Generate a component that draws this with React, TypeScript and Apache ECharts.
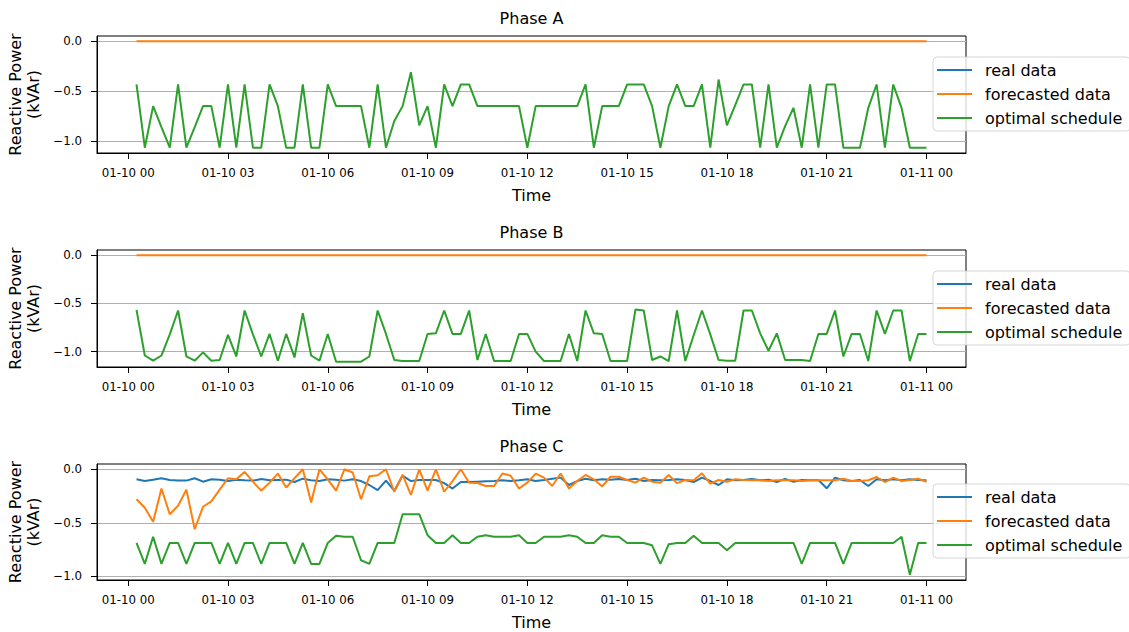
import React, { useEffect, useRef } from 'react';
import * as echarts from 'echarts';

const PHASES = ['Phase A', 'Phase B', 'Phase C'];
const SERIES_NAMES = ['real data', 'forecasted data', 'optimal schedule'];
const COLORS = ['#1f77b4', '#ff7f0e', '#2ca02c'];
const Y_LABEL = 'Reactive Power\n(kVAr)';
const X_LABEL = 'Time';
const Y_TICKS = [-1.0, -0.5, 0.0];
const TICK_HOURS = [0, 3, 6, 9, 12, 15, 18, 21, 24];

// 15-minute samples, 01-10 00:15 .. 01-11 00:00
const START = Date.UTC(2020, 0, 10, 0, 0);
const HOUR = 3600 * 1000;
const STEP = 15 * 60 * 1000;
const N = 96;
const TIMES = Array.from({ length: N }, (_, i) => START + (i + 1) * STEP);

// Phase A
const realA: number[] = [];
const forecastA = [
  0, 0, 0, 0, 0, 0, 0, 0, 0, 0, 0, 0, 0, 0, 0, 0, 0, 0, 0, 0, 0, 0, 0, 0,
  0, 0, 0, 0, 0, 0, 0, 0, 0, 0, 0, 0, 0, 0, 0, 0, 0, 0, 0, 0, 0, 0, 0, 0,
  0, 0, 0, 0, 0, 0, 0, 0, 0, 0, 0, 0, 0, 0, 0, 0, 0, 0, 0, 0, 0, 0, 0, 0,
  0, 0, 0, 0, 0, 0, 0, 0, 0, 0, 0, 0, 0, 0, 0, 0, 0, 0, 0, 0, 0, 0, 0, 0,
];
const optimalA = [
  -0.433, -1.067, -0.65, -0.86, -1.067, -0.433, -1.067, -0.86, -0.65, -0.65, -1.067, -0.433,
  -1.067, -0.433, -1.067, -1.067, -0.433, -0.65, -1.067, -1.067, -0.433, -1.067, -1.067, -0.433,
  -0.65, -0.65, -0.65, -0.65, -1.067, -0.433, -1.067, -0.8, -0.65, -0.31, -0.843, -0.65,
  -1.067, -0.433, -0.65, -0.433, -0.433, -0.65, -0.65, -0.65, -0.65, -0.65, -0.65, -1.067,
  -0.65, -0.65, -0.65, -0.65, -0.65, -0.65, -0.433, -1.067, -0.65, -0.65, -0.65, -0.433,
  -0.433, -0.433, -0.65, -1.067, -0.65, -0.433, -0.65, -0.65, -0.433, -1.067, -0.383, -0.843,
  -0.64, -0.433, -0.433, -1.067, -0.433, -1.067, -0.85, -0.667, -1.067, -0.433, -1.067, -0.433,
  -0.433, -1.067, -1.067, -1.067, -0.667, -0.433, -1.067, -0.433, -0.667, -1.067, -1.067, -1.067,
];

// Phase B
const realB: number[] = [];
const forecastB = [
  0, 0, 0, 0, 0, 0, 0, 0, 0, 0, 0, 0, 0, 0, 0, 0, 0, 0, 0, 0, 0, 0, 0, 0,
  0, 0, 0, 0, 0, 0, 0, 0, 0, 0, 0, 0, 0, 0, 0, 0, 0, 0, 0, 0, 0, 0, 0, 0,
  0, 0, 0, 0, 0, 0, 0, 0, 0, 0, 0, 0, 0, 0, 0, 0, 0, 0, 0, 0, 0, 0, 0, 0,
  0, 0, 0, 0, 0, 0, 0, 0, 0, 0, 0, 0, 0, 0, 0, 0, 0, 0, 0, 0, 0, 0, 0, 0,
];
const optimalB = [
  -0.566, -1.04, -1.094, -1.04, -0.82, -0.573, -1.05, -1.094, -1.007, -1.094, -1.087, -0.826,
  -1.05, -0.573, -0.82, -1.05, -0.816, -1.094, -0.816, -1.06, -0.6, -1.04, -1.094, -0.816,
  -1.104, -1.104, -1.104, -1.104, -1.05, -0.573, -0.816, -1.087, -1.097, -1.097, -1.097, -0.816,
  -0.81, -0.573, -0.816, -0.816, -0.573, -1.087, -0.816, -1.097, -1.097, -1.097, -0.816, -0.816,
  -1.0, -1.097, -1.097, -1.097, -0.816, -1.097, -0.573, -0.81, -0.816, -1.097, -1.097, -1.097,
  -0.563, -0.573, -1.087, -1.05, -1.097, -0.573, -1.097, -0.83, -0.573, -0.82, -1.087, -1.094,
  -1.094, -0.573, -0.573, -0.81, -0.99, -0.81, -1.087, -1.087, -1.087, -1.097, -0.816, -0.816,
  -0.573, -1.05, -0.816, -0.816, -1.097, -0.573, -0.816, -0.573, -0.573, -1.097, -0.816, -0.816,
];

// Phase C
const realC = [
  -0.094, -0.11, -0.097, -0.084, -0.1, -0.106, -0.106, -0.084, -0.116, -0.094, -0.097, -0.11,
  -0.097, -0.103, -0.106, -0.09, -0.103, -0.1, -0.097, -0.119, -0.088, -0.103, -0.11, -0.094,
  -0.097, -0.106, -0.094, -0.11, -0.147, -0.194, -0.106, -0.2, -0.06, -0.11, -0.1, -0.1,
  -0.1, -0.13, -0.18, -0.119, -0.119, -0.116, -0.113, -0.11, -0.103, -0.11, -0.103, -0.094,
  -0.11, -0.1, -0.088, -0.078, -0.147, -0.11, -0.088, -0.103, -0.094, -0.097, -0.09, -0.1,
  -0.088, -0.11, -0.1, -0.103, -0.1, -0.094, -0.1, -0.119, -0.078, -0.11, -0.147, -0.094,
  -0.103, -0.1, -0.09, -0.103, -0.097, -0.119, -0.09, -0.116, -0.1, -0.103, -0.1, -0.178,
  -0.078, -0.103, -0.11, -0.1, -0.156, -0.094, -0.103, -0.094, -0.103, -0.094, -0.1, -0.103,
];
const forecastC = [
  -0.28, -0.36, -0.49, -0.18, -0.42, -0.34, -0.19, -0.56, -0.35, -0.3, -0.19, -0.084,
  -0.094, -0.025, -0.116, -0.2, -0.125, -0.04, -0.17, -0.084, 0, -0.31, 0, -0.094,
  -0.2, 0, -0.03, -0.28, -0.066, -0.056, 0, -0.21, -0.05, -0.24, 0, -0.2,
  0, -0.21, -0.11, 0, -0.125, -0.128, -0.156, -0.156, -0.04, -0.06, -0.18, -0.125,
  -0.04, -0.078, -0.156, -0.04, -0.18, -0.11, -0.053, -0.094, -0.16, -0.07, -0.07, -0.1,
  -0.125, -0.078, -0.116, -0.125, -0.053, -0.13, -0.1, -0.103, -0.038, -0.134, -0.1, -0.116,
  -0.094, -0.1, -0.103, -0.103, -0.11, -0.103, -0.103, -0.103, -0.11, -0.103, -0.103, -0.103,
  -0.103, -0.088, -0.11, -0.11, -0.103, -0.072, -0.119, -0.078, -0.11, -0.1, -0.088, -0.116,
];
const optimalC = [
  -0.688, -0.884, -0.63, -0.884, -0.688, -0.688, -0.884, -0.688, -0.688, -0.688, -0.884, -0.688,
  -0.884, -0.688, -0.688, -0.884, -0.688, -0.688, -0.688, -0.884, -0.688, -0.884, -0.884, -0.688,
  -0.62, -0.63, -0.63, -0.85, -0.884, -0.688, -0.688, -0.688, -0.42, -0.42, -0.42, -0.616,
  -0.688, -0.688, -0.616, -0.688, -0.688, -0.63, -0.616, -0.63, -0.63, -0.63, -0.616, -0.688,
  -0.688, -0.63, -0.63, -0.63, -0.616, -0.63, -0.688, -0.688, -0.616, -0.63, -0.63, -0.688,
  -0.688, -0.688, -0.71, -0.884, -0.7, -0.688, -0.688, -0.62, -0.688, -0.688, -0.688, -0.756,
  -0.688, -0.688, -0.688, -0.688, -0.688, -0.688, -0.688, -0.688, -0.884, -0.688, -0.688, -0.688,
  -0.688, -0.884, -0.688, -0.688, -0.688, -0.688, -0.688, -0.688, -0.63, -0.985, -0.688, -0.688,
];

const PHASE_DATA = [
  [realA, forecastA, optimalA],
  [realB, forecastB, optimalB],
  [realC, forecastC, optimalC],
];

// layout
const FONT = 'DejaVu Sans';
const GRID_LEFT = 97;
const GRID_WIDTH = 869;
const GRID_TOPS = [36, 250, 464];
const GRID_HEIGHTS = [117, 117, 116];
const TITLE_TOPS = [10, 224, 438];
const LEGEND_TOPS = [57, 271, 484];
const LEGEND_LEFT = 933;

function fmtTick(v: number) {
  const d = new Date(v);
  const p = (n: number) => String(n).padStart(2, '0');
  return `${p(d.getUTCMonth() + 1)}-${p(d.getUTCDate())} ${p(d.getUTCHours())}`;
}
function fmtY(v: number) {
  const s = Math.abs(v).toFixed(1);
  return v < -1e-9 ? '\u2212' + s : s;
}

export default function App() {
  const ref = useRef<HTMLDivElement>(null);
  useEffect(() => {
    if (!ref.current) return;
    document.body.style.margin = '0';
    const chart = echarts.init(ref.current, undefined, { renderer: 'svg' });
    const xTicks = TICK_HOURS.map((h) => START + h * HOUR);
    const span = TIMES[N - 1] - TIMES[0];
    const xMin = TIMES[0] - 0.05 * span;
    const xMax = TIMES[N - 1] + 0.05 * span;

    const grids: any[] = [];
    const xAxes: any[] = [];
    const yAxes: any[] = [];
    const series: any[] = [];
    const titles: any[] = [];
    const legends: any[] = [];

    PHASE_DATA.forEach((arrs, p) => {
      const all = ([] as number[]).concat(...arrs);
      const lo = Math.min(...all);
      const hi = Math.max(...all);
      const m = 0.05 * (hi - lo);
      grids.push({
        left: GRID_LEFT,
        top: GRID_TOPS[p],
        width: GRID_WIDTH,
        height: GRID_HEIGHTS[p],
        show: true,
        borderColor: '#000',
        borderWidth: 1,
        backgroundColor: 'transparent',
        containLabel: false,
        outerBoundsMode: 'none',
      });
      xAxes.push({
        type: 'value',
        gridIndex: p,
        min: xMin,
        max: xMax,
        scale: true,
        name: X_LABEL,
        nameLocation: 'middle',
        nameGap: 34,
        nameTextStyle: { fontSize: 16, color: '#000', fontFamily: FONT },
        axisLine: { show: true, onZero: false, lineStyle: { color: '#000', width: 1 } },
        axisTick: {
          show: true,
          length: 6,
          lineStyle: { color: '#000', width: 1 },
          customValues: xTicks,
        },
        axisLabel: {
          show: true,
          customValues: xTicks,
          formatter: (v: number) => fmtTick(v),
          fontSize: 11.8,
          color: '#000',
          fontFamily: FONT,
          margin: 14,
          hideOverlap: false,
        },
        splitLine: { show: false },
        minorTick: { show: false },
      });
      yAxes.push({
        type: 'value',
        gridIndex: p,
        min: lo - m,
        max: hi + m,
        name: Y_LABEL,
        nameLocation: 'middle',
        nameRotate: 90,
        nameGap: 50,
        nameTextStyle: { fontSize: 16, lineHeight: 18, color: '#000', fontFamily: FONT, align: 'center' },
        axisLine: { show: true, onZero: false, lineStyle: { color: '#000', width: 1 } },
        axisTick: {
          show: true,
          length: 6,
          lineStyle: { color: '#000', width: 1 },
          customValues: Y_TICKS,
        },
        axisLabel: {
          show: true,
          customValues: Y_TICKS,
          formatter: (v: number) => fmtY(v),
          fontSize: 11.8,
          color: '#000',
          fontFamily: FONT,
          margin: 15,
        },
        splitLine: { show: true, lineStyle: { color: '#b0b0b0', width: 1 } },
      });
      titles.push({
        text: PHASES[p],
        left: GRID_LEFT + GRID_WIDTH / 2,
        top: TITLE_TOPS[p],
        textAlign: 'center',
        padding: 0,
        textStyle: { fontSize: 16, fontWeight: 'normal', color: '#000', fontFamily: FONT },
      });
      legends.push({
        show: true,
        orient: 'vertical',
        left: LEGEND_LEFT,
        top: LEGEND_TOPS[p],
        padding: [4, 8, 4, 4],
        itemGap: 6,
        itemWidth: 35,
        itemHeight: 2,
        icon: 'rect',
        selectedMode: false,
        backgroundColor: 'rgba(255,255,255,0.8)',
        borderColor: 'rgba(204,204,204,0.8)',
        borderWidth: 1,
        borderRadius: 4,
        data: SERIES_NAMES.map((n) => ({ name: n + '\u200b'.repeat(p) })),
        textStyle: {
          fontSize: 16,
          lineHeight: 18,
          color: '#000',
          fontFamily: FONT,
          padding: [0, 0, 0, 8],
        },
      });
      arrs.forEach((vals, s) => {
        series.push({
          type: 'line',
          name: SERIES_NAMES[s] + '\u200b'.repeat(p),
          xAxisIndex: p,
          yAxisIndex: p,
          data: vals.map((v, i) => [TIMES[i], v]),
          showSymbol: false,
          symbol: 'none',
          color: COLORS[s],
          itemStyle: { color: COLORS[s] },
          lineStyle: { color: COLORS[s], width: 2 },
          emphasis: { disabled: true },
          silent: true,
        });
      });
    });

    chart.setOption({
      animation: false,
      textStyle: { fontFamily: FONT },
      title: titles,
      legend: legends,
      grid: grids,
      xAxis: xAxes,
      yAxis: yAxes,
      series,
    });
    return () => chart.dispose();
  }, []);
  return (
    <div
      ref={ref}
      style={{ position: 'fixed', left: 0, top: 0, width: 1129, height: 632, background: '#fff' }}
    />
  );
}
